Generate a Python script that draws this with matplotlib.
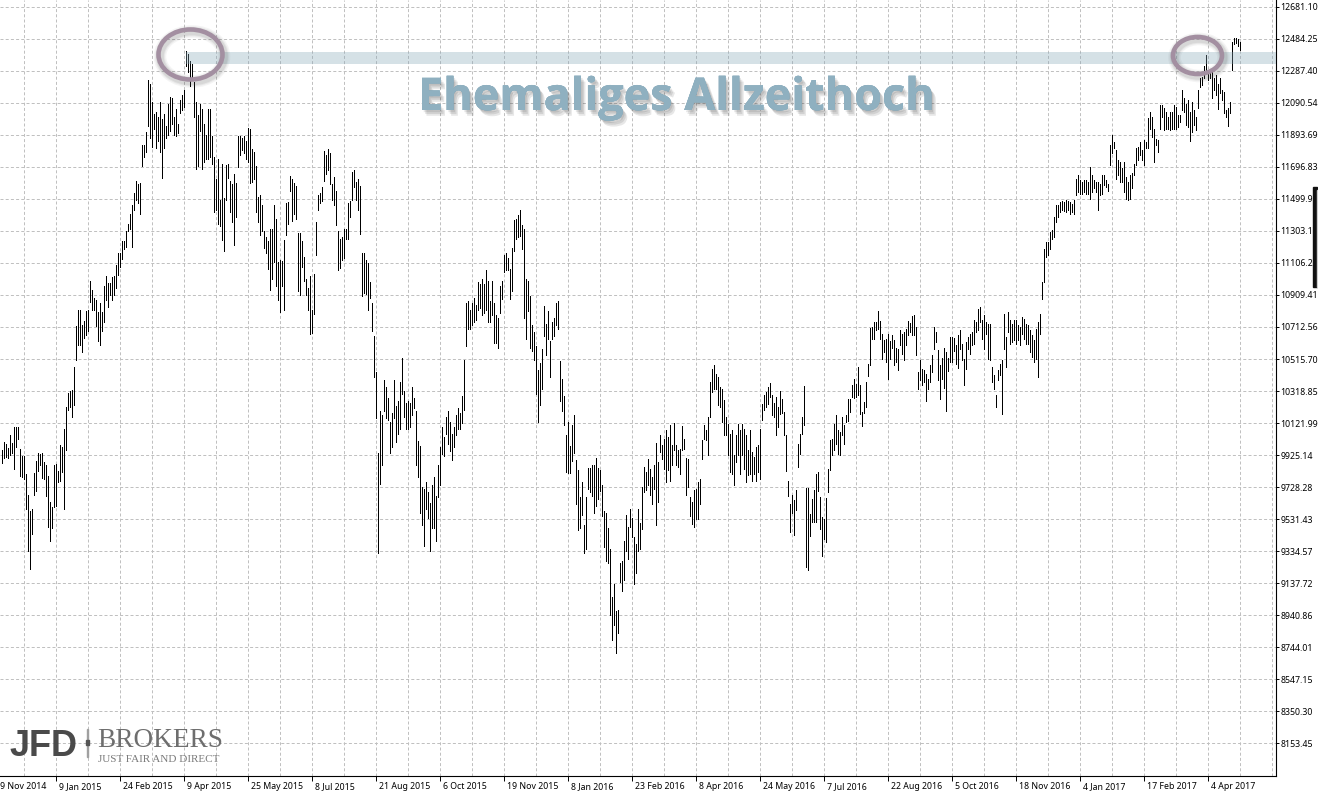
import matplotlib
matplotlib.use("Agg")
import matplotlib.pyplot as plt
import matplotlib.patches as mpatches
import matplotlib.transforms as mtrans
import matplotlib.patheffects as pe
import numpy as np

W, H = 1318, 791

# ---------------- data (daily bars, high / low) ----------------
highs = [
    9957, 10006, 9993, 9968, 10046, 9999, 10101, 10101, 10095, 9964,
    9919, 9919, 9809, 9682, 9582, 9597, 9815, 9887, 9936, 9930,
    9936, 9883, 9866, 9794, 9640, 9604, 9866, 9872, 9830, 9985,
    9978, 10084, 10222, 10307, 10317, 10324, 10466, 10720, 10815, 10819,
    10726, 10752, 10811, 10815, 10995, 10938, 10889, 10879, 10805, 10857,
    10805, 10963, 11023, 10985, 10985, 11017, 11027, 11091, 11165, 11165,
    11239, 11239, 11302, 11345, 11409, 11465, 11536, 11610, 11589, 11599,
    11832, 11832, 11912, 12230, 12203, 12097, 12023, 12033, 12001, 12097,
    11991, 12023, 11948, 12086, 12129, 12118, 12006, 12054, 11959, 12107,
    12139, 12171, 12408, 12393, 12345, 12330, 12217, 12097, 12018, 12086,
    12054, 11959, 11895, 12054, 12054, 11885, 11758, 11620, 11747, 11493,
    11715, 11504, 11709, 11715, 11610, 11589, 11652, 11599, 11885, 11885,
    11874, 11885, 11853, 11934, 11927, 11806, 11790, 11705, 11514, 11525,
    11461, 11302, 11264, 11239, 11313, 11313, 11461, 11377, 11112, 11123,
    11116, 11249, 11472, 11482, 11641, 11620, 11599, 11578, 11292, 11292,
    11239, 11144, 11006, 10953, 11027, 10815, 11038, 11355, 11525, 11536,
    11570, 11792, 11771, 11807, 11782, 11591, 11633, 11549, 11305, 11252,
    11263, 11316, 11316, 11475, 11485, 11665, 11676, 11602, 11623, 11580,
    11168, 11168, 11125, 11104, 10988, 10861, 10660, 10437, 9940, 10194,
    10173, 10385, 10342, 10279, 10130, 10183, 10385, 10226, 10258, 10374,
    10522, 10321, 10247, 10258, 10247, 10342, 10279, 10194, 10014, 9982,
    9728, 9718, 9760, 9697, 9633, 9739, 9792, 9675, 9866, 9972,
    10099, 10035, 10162, 10194, 10130, 10056, 10099, 10173, 10215, 10183,
    10289, 10511, 10861, 10871, 10819, 10861, 10892, 10850, 10988, 10977,
    11009, 10977, 11062, 10998, 10871, 10998, 10861, 10787, 10766, 10967,
    10998, 11157, 11168, 11136, 11072, 11199, 11369, 11379, 11400, 11432,
    11337, 11316, 11009, 10998, 10903, 10723, 10681, 10596, 10448, 10490,
    10575, 10839, 10734, 10808, 10628, 10744, 10766, 10861, 10871, 10501,
    10395, 10289, 10046, 10130, 9982, 10109, 10173, 9898, 9834, 9665,
    9760, 9496, 9665, 9845, 9845, 9866, 9866, 9908, 9845, 9834,
    9739, 9580, 9570, 9475, 9347, 9051, 9136, 8966, 8971, 9263,
    9273, 9400, 9559, 9485, 9591, 9538, 9422, 9379, 9591, 9506,
    9728, 9851, 9821, 9903, 9841, 9790, 9862, 10001, 9882, 10046,
    9985, 10026, 10077, 10036, 10108, 9985, 10124, 9985, 9954, 9964,
    10104, 10026, 9909, 9903, 9667, 9640, 9708, 9718, 9759, 9780,
    10015, 10108, 10081, 10159, 10374, 10452, 10481, 10426, 10405, 10344,
    10333, 10262, 10159, 10118, 10057, 10077, 9923, 10046, 10118, 10077,
    10118, 10087, 10046, 9954, 10077, 9944, 9913, 9974, 9985, 10087,
    10241, 10296, 10313, 10344, 10368, 10292, 10247, 10282, 10221, 10319,
    10272, 10190, 10046, 9763, 9626, 9677, 9647, 9708, 9995, 10057,
    10159, 10350, 9724, 9722, 9564, 9657, 9708, 9810, 9821, 9667,
    9544, 9534, 9661, 9841, 10015, 10026, 10118, 10169, 10077, 10067,
    10159, 10112, 10169, 10272, 10272, 10358, 10391, 10364, 10467, 10354,
    10190, 10251, 10374, 10487, 10706, 10712, 10743, 10743, 10809, 10747,
    10672, 10631, 10641, 10672, 10624, 10661, 10631, 10583, 10579, 10692,
    10672, 10682, 10702, 10747, 10739, 10780, 10788, 10712, 10436, 10508,
    10456, 10446, 10426, 10391, 10477, 10538, 10712, 10682, 10569, 10477,
    10522, 10583, 10559, 10522, 10651, 10651, 10645, 10600, 10665, 10692,
    10610, 10518, 10620, 10651, 10672, 10682, 10754, 10743, 10825, 10836,
    10754, 10784, 10743, 10733, 10733, 10467, 10415, 10296, 10446, 10487,
    10508, 10794, 10651, 10805, 10754, 10733, 10754, 10754, 10727, 10713,
    10774, 10764, 10733, 10723, 10692, 10661, 10631, 10702, 10743, 10794,
    10989, 11194, 11235, 11235, 11297, 11307, 11389, 11461, 11461, 11482,
    11486, 11482, 11492, 11486, 11482, 11471, 11492, 11625, 11646, 11615,
    11605, 11615, 11615, 11605, 11697, 11646, 11615, 11605, 11605, 11594,
    11646, 11646, 11615, 11594, 11830, 11892, 11851, 11800, 11738, 11728,
    11687, 11728, 11635, 11605, 11646, 11656, 11717, 11810, 11820, 11851,
    11800, 11861, 11851, 11994, 12035, 12004, 11932, 11871, 11861, 12076,
    12080, 12056, 12035, 12004, 12035, 12035, 12076, 12066, 12015, 12015,
    12168, 12117, 12086, 12107, 12035, 12097, 12045, 12004, 12168, 12240,
    12250, 12318, 12384, 12281, 12298, 12281, 12240, 12260, 12209, 12240,
    12168, 12158, 12045, 12060, 12097, 12466, 12486, 12490, 12482, 12466,
]
lows = [
    9879, 9908, 9915, 9908, 9925, 9936, 9840, 9978, 10025, 9798,
    9788, 9777, 9593, 9336, 9226, 9438, 9682, 9703, 9830, 9862,
    9782, 9777, 9671, 9481, 9396, 9477, 9604, 9612, 9760, 9766,
    9819, 9593, 9957, 10201, 10222, 10158, 10233, 10508, 10603, 10603,
    10561, 10646, 10663, 10688, 10868, 10815, 10815, 10720, 10625, 10603,
    10688, 10741, 10879, 10836, 10910, 10879, 10910, 10953, 11031, 11080,
    11133, 11192, 11207, 11302, 11313, 11207, 11429, 11493, 11472, 11409,
    11705, 11758, 11790, 11948, 11874, 11821, 11927, 11811, 11853, 11790,
    11631, 11811, 11874, 11895, 11917, 11959, 11895, 11885, 11906, 12027,
    12048, 12065, 12319, 12277, 12192, 12245, 12006, 11684, 11705, 11917,
    11684, 11726, 11747, 11743, 11758, 11715, 11419, 11429, 11345, 11334,
    11249, 11180, 11493, 11631, 11419, 11355, 11218, 11387, 11694, 11768,
    11800, 11779, 11747, 11726, 11599, 11603, 11620, 11419, 11355, 11281,
    11302, 11197, 11165, 11069, 10942, 11006, 11112, 10963, 10879, 10805,
    10963, 10815, 11281, 11345, 11546, 11366, 11409, 11377, 10931, 10910,
    11080, 10995, 10910, 10815, 10667, 10678, 10794, 11154, 11429, 11472,
    11485, 11612, 11654, 11676, 11591, 11496, 11464, 11337, 11062, 11073,
    11125, 11136, 11252, 11252, 11390, 11496, 11570, 11496, 11432, 11284,
    10903, 10924, 10914, 10818, 10893, 10691, 10406, 10152, 9326, 9750,
    9866, 10194, 10152, 10141, 9940, 9972, 10152, 10004, 10056, 10088,
    10300, 10162, 10088, 10088, 10099, 10173, 10215, 9866, 9792, 9570,
    9496, 9369, 9591, 9538, 9337, 9475, 9475, 9400, 9665, 9739,
    9929, 9919, 10056, 9993, 9951, 9898, 9972, 10046, 10088, 10088,
    10120, 10205, 10596, 10702, 10702, 10723, 10744, 10755, 10818, 10829,
    10787, 10797, 10818, 10744, 10744, 10787, 10617, 10617, 10586, 10797,
    10882, 11051, 11062, 11062, 10882, 10935, 11178, 11252, 11263, 11273,
    11189, 10766, 10638, 10808, 10586, 10565, 10511, 10300, 10130, 10236,
    10332, 10660, 10543, 10638, 10406, 10638, 10660, 10723, 10702, 10257,
    10194, 10109, 9824, 9813, 9813, 9887, 9940, 9622, 9464, 9475,
    9559, 9326, 9347, 9718, 9697, 9675, 9570, 9612, 9654, 9707,
    9549, 9358, 9273, 9263, 8945, 8786, 8882, 8712, 8829, 9146,
    9093, 9157, 9337, 9284, 9485, 9422, 9136, 9199, 9337, 9347,
    9472, 9698, 9708, 9739, 9677, 9626, 9718, 9497, 9636, 9944,
    9903, 9841, 9759, 9831, 9769, 9862, 9954, 9862, 9851, 9810,
    9954, 9964, 9677, 9728, 9554, 9503, 9482, 9530, 9533, 9626,
    9903, 10026, 10015, 9923, 10159, 10313, 10333, 10329, 10231, 10221,
    10128, 10050, 10050, 9923, 9821, 9810, 9739, 9882, 9923, 9810,
    9923, 9841, 9759, 9800, 9810, 9769, 9810, 9769, 9821, 9780,
    10139, 10200, 10221, 10241, 10282, 10169, 10159, 10046, 10098, 10180,
    10186, 10050, 9825, 9673, 9452, 9571, 9435, 9585, 9851, 9933,
    10052, 10108, 9236, 9222, 9427, 9517, 9517, 9517, 9702, 9472,
    9308, 9411, 9390, 9698, 9831, 9927, 9954, 9995, 9933, 9923,
    10046, 9995, 10128, 10132, 10190, 10282, 10276, 10282, 10292, 10180,
    10102, 10186, 10221, 10411, 10477, 10637, 10637, 10692, 10702, 10641,
    10518, 10559, 10497, 10395, 10518, 10583, 10477, 10497, 10446, 10600,
    10549, 10508, 10600, 10661, 10682, 10665, 10665, 10542, 10329, 10385,
    10354, 10374, 10255, 10333, 10374, 10436, 10575, 10620, 10385, 10268,
    10395, 10337, 10194, 10440, 10497, 10497, 10563, 10487, 10460, 10575,
    10508, 10354, 10456, 10579, 10548, 10600, 10610, 10682, 10692, 10743,
    10641, 10579, 10672, 10518, 10508, 10374, 10333, 10220, 10385, 10415,
    10179, 10579, 10467, 10682, 10610, 10620, 10631, 10610, 10631, 10600,
    10672, 10641, 10610, 10610, 10559, 10528, 10497, 10518, 10405, 10672,
    10887, 10989, 11143, 11153, 11194, 11256, 11266, 11358, 11389, 11420,
    11430, 11424, 11420, 11430, 11410, 11420, 11410, 11523, 11543, 11533,
    11533, 11543, 11527, 11533, 11502, 11543, 11564, 11543, 11430, 11523,
    11533, 11584, 11574, 11547, 11707, 11779, 11810, 11625, 11646, 11605,
    11605, 11543, 11502, 11492, 11502, 11564, 11646, 11707, 11738, 11769,
    11738, 11707, 11810, 11810, 11932, 11881, 11728, 11830, 11789, 11932,
    12004, 11922, 11932, 11932, 11922, 11932, 11932, 11932, 11943, 11974,
    12045, 12035, 11953, 11943, 11855, 11912, 11953, 11922, 12056, 12189,
    12199, 12240, 12281, 12230, 12240, 12117, 12168, 12137, 12051, 12148,
    12107, 12025, 12004, 11949, 12025, 12291, 12449, 12456, 12441, 12414,
]

date_labels = [
    "19 Nov 2014", "9 Jan 2015", "24 Feb 2015", "9 Apr 2015", "25 May 2015",
    "8 Jul 2015", "21 Aug 2015", "6 Oct 2015", "19 Nov 2015", "8 Jan 2016",
    "23 Feb 2016", "8 Apr 2016", "24 May 2016", "7 Jul 2016", "22 Aug 2016",
    "5 Oct 2016", "18 Nov 2016", "4 Jan 2017", "17 Feb 2017", "4 Apr 2017",
]
date_label_bar = [-5 + 32 * k for k in range(len(date_labels))]

price_labels = [
    "12681.10", "12484.25", "12287.40", "12090.54", "11893.69", "11696.83",
    "11499.98", "11303.12", "11106.27", "10909.41", "10712.56", "10515.70",
    "10318.85", "10121.99", "9925.14", "9728.28", "9531.43", "9334.57",
    "9137.72", "8940.86", "8744.01", "8547.15", "8350.30", "8153.45",
]
price_ticks = [float(s) for s in price_labels]

former_high = 12366
annotation_text = "Ehemaliges Allzeithoch"

# ---------------- figure ----------------
fig = plt.figure(figsize=(W / 100, H / 100), dpi=100)
fig.patch.set_facecolor("white")
ax = fig.add_axes([0, 15 / H, 1275.7 / W, 776 / H])
ax.set_facecolor("white")

n = len(highs)
idx = np.arange(n)
ax.set_xlim(-0.75, 637.1)
ax.set_ylim(7953.0, 12722.3)

TICKFONT = dict(family="Noto Sans", size=6.3)
GRID = dict(color="#c0c0c0", linewidth=0.72, linestyle=(0, (3, 2.2)))

# grid
for p in price_ticks:
    ax.axhline(p, zorder=0, **GRID)
for g in range(-5, 640, 16):
    if g > -0.75:
        ax.axvline(g, zorder=0, **GRID)

# bars
ax.vlines(idx, lows, highs, colors="black", linewidth=0.6,
          antialiased=False, zorder=3)

# spines
for s in ("top", "left"):
    ax.spines[s].set_visible(False)
for s in ("right", "bottom"):
    ax.spines[s].set_color("black")
    ax.spines[s].set_linewidth(0.8)

# y axis on right
ax.yaxis.tick_right()
ax.set_yticks(price_ticks)
ax.set_yticklabels(price_labels, **TICKFONT)
ax.tick_params(axis="y", direction="out", length=2.3, width=0.7, pad=1.0,
               colors="black")

# x ticks
vis = [b for b in date_label_bar if b > -0.75]
ax.set_xticks(vis)
ax.set_xticklabels([])
ax.tick_params(axis="x", direction="out", length=3.3, width=0.7)
xt = mtrans.blended_transform_factory(ax.transData, fig.transFigure)
for b, lab in zip(date_label_bar, date_labels):
    ax.text(b + 1.6, 1 - 789 / H, lab, transform=xt, ha="left", va="baseline",
            clip_on=False, color="black", **TICKFONT)

# pixel transform (x right, y down from top)
pix = mtrans.Affine2D().scale(1 / W, -1 / H).translate(0, 1) + fig.transFigure

# band at former all-time high
band_lo = former_high - 37
band_hi = former_high + 37
ax.fill_between([92, 637.1], [band_lo, band_lo], [band_hi, band_hi],
                color="#87a9ba", alpha=0.35, linewidth=0, zorder=4)

# ellipses
def ring(cx, cy, w, h):
    for lw, a in [(9, 0.06), (7, 0.08), (5.5, 0.1)]:
        fig.patches.append(mpatches.Ellipse((cx + 1.5, cy + 2), w, h, fill=False,
                           edgecolor="#505050", linewidth=lw, alpha=a,
                           transform=pix, zorder=5))
    fig.patches.append(mpatches.Ellipse((cx, cy), w, h, fill=False,
                       edgecolor="#a38fa1", linewidth=3.3,
                       transform=pix, zorder=6))

ring(190.5, 54.5, 64, 50)
ring(1197.5, 55.5, 49, 37)

# annotation text
shadow = [pe.withSimplePatchShadow(offset=(o, -o * 1.3), shadow_rgbFace="#3a3a3a",
                                   alpha=0.12) for o in (1.2, 2.2, 3.2)]
fig.text(418 / W, 1 - 110 / H, annotation_text, family="Open Sans",
         weight="bold", size=32.4, color="#8fb0c0", ha="left", va="baseline",
         path_effects=shadow + [pe.Normal()], zorder=7)

# logo
fig.text(10 / W, 1 - 756 / H, "JFD", family="Liberation Sans", weight="bold",
         size=26, color="#4a4a4a", ha="left", va="baseline")
fig.patches.append(mpatches.Rectangle((87, 729), 0.8, 28, color="#a0a0a0",
                                      transform=pix, zorder=3))
fig.patches.append(mpatches.Rectangle((86, 740), 2.6, 5, color="#555555",
                                      transform=pix, zorder=3))
fig.text(97 / W, 1 - 747 / H, "BROKERS", family="Liberation Serif",
         size=19.6, color="#6e6e6e", ha="left", va="baseline")
fig.text(98 / W, 1 - 762 / H, "JUST FAIR AND DIRECT", family="Liberation Serif",
         size=8, color="#7a7a7a", ha="left", va="baseline")

# right-edge dark marker
fig.patches.append(mpatches.Rectangle((1313.3, 187), 3.4, 100, color="#111111",
                                      transform=pix, zorder=8))
fig.patches.append(mpatches.Rectangle((1316.7, 190), 1.3, 97, color="#cfcfcf",
                                      transform=pix, zorder=8))

fig.savefig("out.png", dpi=100, facecolor="white")
